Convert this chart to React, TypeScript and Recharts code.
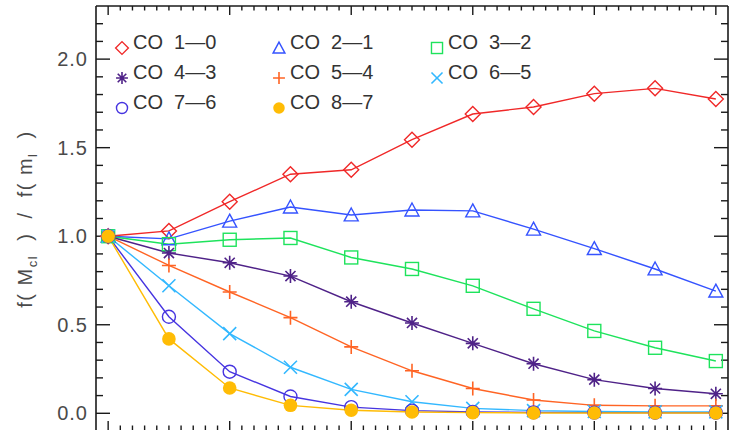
import { LineChart, Line, XAxis, YAxis, ReferenceLine } from "recharts";

// model index along the x axis (the tick labels are cut off in the figure)
const xIndex = [0, 1, 2, 3, 4, 5, 6, 7, 8, 9, 10];

const co10 = [1.0, 1.03, 1.195, 1.35, 1.375, 1.545, 1.69, 1.73, 1.805, 1.835, 1.775];
const co21 = [1.0, 0.985, 1.085, 1.165, 1.12, 1.148, 1.143, 1.04, 0.93, 0.815, 0.69];
const co32 = [1.0, 0.955, 0.98, 0.99, 0.88, 0.815, 0.72, 0.59, 0.465, 0.37, 0.295];
const co43 = [1.0, 0.905, 0.85, 0.775, 0.63, 0.51, 0.395, 0.28, 0.19, 0.14, 0.11];
const co54 = [1.0, 0.835, 0.685, 0.54, 0.375, 0.24, 0.14, 0.075, 0.045, 0.042, 0.042];
const co65 = [1.0, 0.72, 0.45, 0.26, 0.135, 0.065, 0.028, 0.015, 0.01, 0.008, 0.008];
const co76 = [1.0, 0.545, 0.235, 0.095, 0.035, 0.015, 0.008, 0.005, 0.004, 0.003, 0.003];
const co87 = [1.0, 0.42, 0.143, 0.045, 0.017, 0.007, 0.004, 0.002, 0.002, 0.002, 0.002];

const seriesNames = ["CO  1—0", "CO  2—1", "CO  3—2", "CO  4—3", "CO  5—4", "CO  6—5", "CO  7—6", "CO  8—7"];

const yMajor = [0, 0.5, 1.0, 1.5, 2.0];
const yTickLabels = ["0.0", "0.5", "1.0", "1.5", "2.0"];
const xMajor = [0, 2, 4, 6, 8, 10];

const X_DOMAIN = [-0.2, 10.2];
const Y_DOMAIN = [-0.1, 2.3];

// minor tick positions (majors included), every 0.1 in y and 0.2 in x
const yMinor = Array.from({ length: 23 }, (_, i) => Math.round(i * 0.1 * 10) / 10);
const xMinor = Array.from({ length: 51 }, (_, i) => Math.round(i * 0.2 * 10) / 10);

const data = xIndex.map((x, i) => ({
  x,
  co10: co10[i],
  co21: co21[i],
  co32: co32[i],
  co43: co43[i],
  co54: co54[i],
  co65: co65[i],
  co76: co76[i],
  co87: co87[i],
}));

const series = [
  { key: "co10", color: "#f02828", shape: "diamond" },
  { key: "co21", color: "#3553ff", shape: "triangle" },
  { key: "co32", color: "#1ee35c", shape: "square" },
  { key: "co43", color: "#4f2288", shape: "asterisk" },
  { key: "co54", color: "#ff6424", shape: "plus" },
  { key: "co65", color: "#33b8ff", shape: "cross" },
  { key: "co76", color: "#4634e0", shape: "circle" },
  { key: "co87", color: "#ffbc05", shape: "dot" },
];

const FONT = "'Liberation Sans', Arial, sans-serif";
const AXIS = "#1a1a1a";

const W = 732;
const H = 440;
const M = { top: 6, right: 4, bottom: 9, left: 0 };
const Y_AXIS_W = 96;
const PLOT_W = W - M.left - M.right - Y_AXIS_W;
const PLOT_H = H - M.top - M.bottom;

// tick lengths: pixels turned into data units
const xPerPx = (X_DOMAIN[1] - X_DOMAIN[0]) / PLOT_W;
const yPerPx = (Y_DOMAIN[1] - Y_DOMAIN[0]) / PLOT_H;

const isMajor = (v: number, majors: number[]) => majors.some((m) => Math.abs(m - v) < 1e-6);

function Marker({ shape, cx, cy, color, s = 1 }: any) {
  if (cx == null || cy == null) return <g />;
  const sw = 1.4;
  if (shape === "diamond") {
    const r = 7.5 * s;
    return <path d={`M${cx},${cy - r}L${cx + r},${cy}L${cx},${cy + r}L${cx - r},${cy}Z`} fill="none" stroke={color} strokeWidth={sw} />;
  }
  if (shape === "triangle") {
    const r = 7 * s;
    return <path d={`M${cx},${cy - r}L${cx + r},${cy + r * 0.85}L${cx - r},${cy + r * 0.85}Z`} fill="none" stroke={color} strokeWidth={sw} />;
  }
  if (shape === "square") {
    const r = 6.5 * s;
    return <rect x={cx - r} y={cy - r} width={2 * r} height={2 * r} fill="none" stroke={color} strokeWidth={sw} />;
  }
  if (shape === "asterisk") {
    const r = 7 * s;
    const d = r * 0.72;
    return (
      <path
        d={`M${cx - r},${cy}L${cx + r},${cy}M${cx},${cy - r}L${cx},${cy + r}M${cx - d},${cy - d}L${cx + d},${cy + d}M${cx - d},${cy + d}L${cx + d},${cy - d}`}
        stroke={color}
        strokeWidth={1.6}
      />
    );
  }
  if (shape === "plus") {
    const r = 7 * s;
    return <path d={`M${cx - r},${cy}L${cx + r},${cy}M${cx},${cy - r}L${cx},${cy + r}`} stroke={color} strokeWidth={1.6} />;
  }
  if (shape === "cross") {
    const r = 6.5 * s;
    return <path d={`M${cx - r},${cy - r}L${cx + r},${cy + r}M${cx - r},${cy + r}L${cx + r},${cy - r}`} stroke={color} strokeWidth={1.6} />;
  }
  if (shape === "circle") {
    return <circle cx={cx} cy={cy} r={6.5 * s} fill="none" stroke={color} strokeWidth={sw} />;
  }
  return <circle cx={cx} cy={cy} r={6.8 * s} fill={color} stroke="none" />;
}

const YTickLabel = ({ x, y, payload }: any) => {
  const idx = yMajor.findIndex((m) => Math.abs(m - payload.value) < 1e-6);
  return (
    <text x={x - 8} y={y + 7} textAnchor="end" fontSize={20} fontFamily={FONT} fill="#4a4a4a" letterSpacing={1}>
      {yTickLabels[idx]}
    </text>
  );
};

const YTitle = () => (
  <text
    transform="translate(32,219) rotate(-90)"
    textAnchor="middle"
    fontSize={20}
    fontFamily={FONT}
    fill="#4a4a4a"
    letterSpacing={1.5}
    style={{ whiteSpace: "pre" }}
  >
    <tspan>f( M</tspan>
    <tspan fontSize={13} dy={5}>cl</tspan>
    <tspan dy={-5}>{"  )  /  f( m"}</tspan>
    <tspan fontSize={13} dy={5}>l</tspan>
    <tspan dy={-5}>{"  )"}</tspan>
  </text>
);

const legendCols = [122, 279, 437];
const legendRows = [49, 79, 109];

const LegendAndTitle = () => (
  <g>
    {series.map((s, i) => {
      const cx = legendCols[i % 3];
      const by = legendRows[Math.floor(i / 3)];
      return (
        <g key={s.key}>
          <Marker shape={s.shape} cx={cx} cy={by - 1} color={s.color} s={0.85} />
          <text x={cx + 11} y={by} fontSize={20} fontFamily={FONT} fill="#333" style={{ whiteSpace: "pre" }}>
            {seriesNames[i]}
          </text>
        </g>
      );
    })}
    <YTitle />
  </g>
);

// inward tick marks on all four sides of the frame
const frameTicks = () => {
  const out: any[] = [];
  yMinor.forEach((v) => {
    const len = (isMajor(v, yMajor) ? 14 : 7) * xPerPx;
    out.push(
      <ReferenceLine key={`yl${v}`} ifOverflow="visible" segment={[{ x: X_DOMAIN[0], y: v }, { x: X_DOMAIN[0] + len, y: v }]} stroke={AXIS} strokeWidth={1.4} />,
      <ReferenceLine key={`yr${v}`} ifOverflow="visible" segment={[{ x: X_DOMAIN[1] - len, y: v }, { x: X_DOMAIN[1], y: v }]} stroke={AXIS} strokeWidth={1.4} />
    );
  });
  xMinor.forEach((v) => {
    const major = isMajor(v, xMajor);
    const len = (major ? 9 : 4.5) * yPerPx;
    out.push(
      <ReferenceLine key={`xb${v}`} ifOverflow="visible" segment={[{ x: v, y: Y_DOMAIN[0] }, { x: v, y: Y_DOMAIN[0] + len + yPerPx }]} stroke={AXIS} strokeWidth={1.4} />,
      <ReferenceLine key={`xt${v}`} ifOverflow="visible" segment={[{ x: v, y: Y_DOMAIN[1] - len }, { x: v, y: Y_DOMAIN[1] }]} stroke={AXIS} strokeWidth={1.4} />
    );
  });
  return out;
};

export default function App() {
  return (
    <div style={{ position: "absolute", left: 0, top: 0 }}>
      <LineChart width={W} height={H} data={data} margin={M}>
        <XAxis
          dataKey="x"
          type="number"
          domain={X_DOMAIN}
          allowDataOverflow
          ticks={xMajor}
          height={0}
          tick={false}
          tickLine={false}
          axisLine={{ stroke: AXIS, strokeWidth: 1.6 }}
        />
        <YAxis
          type="number"
          domain={Y_DOMAIN}
          allowDataOverflow
          ticks={yMajor}
          interval={0}
          width={Y_AXIS_W}
          tickSize={0}
          tickMargin={0}
          tickLine={false}
          tick={<YTickLabel />}
          axisLine={{ stroke: AXIS, strokeWidth: 1.6 }}
          label={{ content: () => <LegendAndTitle /> }}
        />
        <ReferenceLine y={Y_DOMAIN[1]} ifOverflow="visible" stroke={AXIS} strokeWidth={1.6} />
        <ReferenceLine x={X_DOMAIN[1]} ifOverflow="visible" stroke={AXIS} strokeWidth={1.6} />
        {frameTicks()}
        {series.map((s) => (
          <Line
            key={s.key}
            type="linear"
            dataKey={s.key}
            stroke={s.color}
            strokeWidth={1.4}
            isAnimationActive={false}
            activeDot={false}
            dot={(p: any) => <Marker key={`${s.key}-${p.index}`} shape={s.shape} cx={p.cx} cy={p.cy} color={s.color} />}
          />
        ))}
      </LineChart>
    </div>
  );
}
